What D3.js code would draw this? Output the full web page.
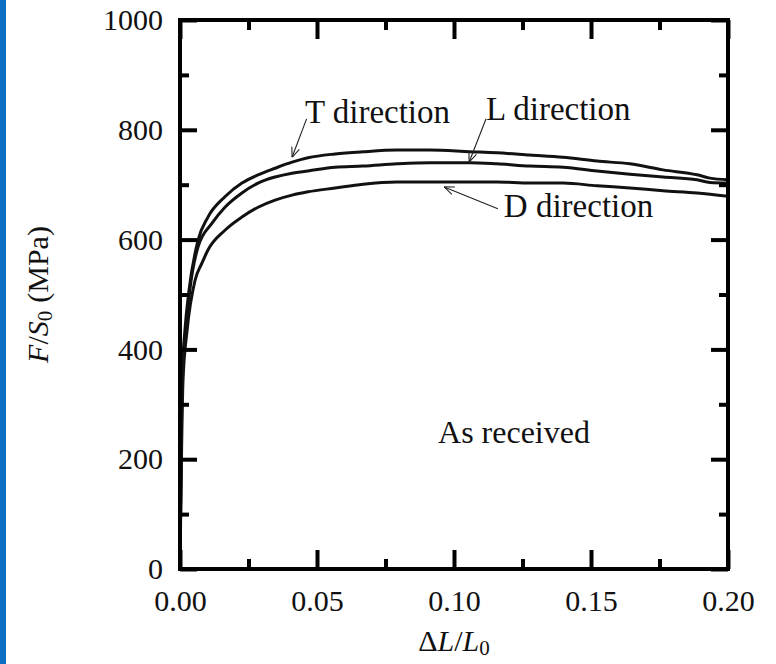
<!DOCTYPE html>
<html>
<head>
<meta charset="utf-8">
<script src="https://cdn.jsdelivr.net/npm/d3@7"></script>
<style>
  body { margin: 0; background: #fff; }
  svg { display: block; }
  text { font-family: "Liberation Serif", "Times New Roman", serif; fill: #111; }
</style>
</head>
<body>
<svg id="chart" width="776" height="664"></svg>
<script>
// strain / stress readings, one pair of arrays per direction
const tStrain = [0, 0.0007, 0.0018, 0.0033, 0.0066, 0.0102, 0.0164, 0.0226, 0.0285, 0.0347, 0.0409, 0.0467, 0.0566, 0.0668, 0.0792, 0.0912, 0.1058, 0.1157, 0.1277, 0.1398, 0.1522, 0.1642, 0.1763, 0.1887, 0.1934, 0.2];
const tStress = [0, 344, 435, 508, 599, 641, 678, 703, 718, 730, 741, 749, 756, 760, 763, 763, 760, 758, 754, 750, 743, 738, 727, 718, 712, 709];

const lStrain = [0, 0.0007, 0.0022, 0.0036, 0.0066, 0.0117, 0.0164, 0.0226, 0.0285, 0.0347, 0.0409, 0.0467, 0.0566, 0.0668, 0.0792, 0.0912, 0.1058, 0.1157, 0.1277, 0.1398, 0.1522, 0.1642, 0.1763, 0.1887, 0.1934, 0.2];
const lStress = [0, 335, 435, 508, 587, 630, 659, 685, 703, 714, 721, 725, 732, 734, 738, 740, 740, 738, 734, 732, 725, 719, 714, 709, 704, 703];

const dStrain = [0, 0.0011, 0.0026, 0.0055, 0.008, 0.0102, 0.0164, 0.0226, 0.0285, 0.0347, 0.0409, 0.0467, 0.0566, 0.0668, 0.0792, 0.0912, 0.1033, 0.1157, 0.1277, 0.1398, 0.1522, 0.1642, 0.1763, 0.1887, 0.2];
const dStress = [0, 344, 435, 526, 557, 581, 617, 641, 659, 672, 681, 687, 694, 701, 705, 705, 705, 705, 703, 703, 698, 694, 689, 685, 679];

const xMajor = [0, 0.05, 0.10, 0.15, 0.20];
const xMinor = [0.025, 0.075, 0.125, 0.175];
const yMajor = [0, 200, 400, 600, 800, 1000];
const yMinor = [100, 300, 500, 700, 900];

// annotations: label, text anchor point, arrow tail, arrow tip (data units)
const labels = ["T direction", "L direction", "D direction"];
const labelPos = [[0.0456, 812], [0.1117, 818], [0.1182, 641]];
const arrowTail = [[0.0462, 820], [0.1117, 820], [0.116, 656]];
const arrowTip = [[0.0409, 750], [0.1055, 741], [0.0964, 696]];

const svg = d3.select("#chart");

// blue strip on the left edge
svg.append("rect").attr("x", 0).attr("y", 0).attr("width", 6).attr("height", 664).attr("fill", "#0a6fc2");

const margin = { top: 20, right: 48, bottom: 95, left: 180 };
const width = 776 - margin.left - margin.right;
const height = 664 - margin.top - margin.bottom;

const g = svg.append("g").attr("transform", `translate(${margin.left},${margin.top})`);

const x = d3.scaleLinear().domain([0, 0.2]).range([0, width]);
const y = d3.scaleLinear().domain([0, 1000]).range([height, 0]);

g.append("clipPath").attr("id", "clip")
  .append("rect").attr("width", width).attr("height", height);

// curves
const line = d3.line()
  .x(d => x(d[0]))
  .y(d => y(d[1]))
  .curve(d3.curveMonotoneX);

[[tStrain, tStress], [lStrain, lStress], [dStrain, dStress]].forEach(([xs, ys]) => {
  g.append("path")
    .datum(xs.map((v, i) => [v, ys[i]]))
    .attr("clip-path", "url(#clip)")
    .attr("fill", "none")
    .attr("stroke", "#111")
    .attr("stroke-width", 3)
    .attr("d", line);
});

// ticks on all four sides, pointing inward
function styleAxis(sel) {
  sel.select(".domain").remove();
  sel.selectAll(".tick line").attr("stroke", "#000").attr("stroke-width", 4);
  sel.selectAll("text").style("font-size", "30px").style("font-family", "Liberation Serif, serif").attr("fill", "#111");
}

g.append("g").attr("transform", `translate(0,${height})`)
  .call(d3.axisBottom(x).tickValues(xMajor).tickSizeInner(-19).tickSizeOuter(0).tickPadding(21).tickFormat(d3.format(".2f")))
  .call(styleAxis);
g.append("g").attr("transform", `translate(0,${height})`)
  .call(d3.axisBottom(x).tickValues(xMinor).tickSizeInner(-10).tickSizeOuter(0).tickFormat(""))
  .call(styleAxis);
g.append("g")
  .call(d3.axisTop(x).tickValues(xMajor).tickSizeInner(-19).tickSizeOuter(0).tickFormat(""))
  .call(styleAxis);
g.append("g")
  .call(d3.axisTop(x).tickValues(xMinor).tickSizeInner(-10).tickSizeOuter(0).tickFormat(""))
  .call(styleAxis);

g.append("g")
  .call(d3.axisLeft(y).tickValues(yMajor).tickSizeInner(-17).tickSizeOuter(0).tickPadding(17).tickFormat(d3.format("d")))
  .call(styleAxis);
g.append("g")
  .call(d3.axisLeft(y).tickValues(yMinor).tickSizeInner(-9).tickSizeOuter(0).tickFormat(""))
  .call(styleAxis);
g.append("g").attr("transform", `translate(${width},0)`)
  .call(d3.axisRight(y).tickValues(yMajor).tickSizeInner(-17).tickSizeOuter(0).tickFormat(""))
  .call(styleAxis);
g.append("g").attr("transform", `translate(${width},0)`)
  .call(d3.axisRight(y).tickValues(yMinor).tickSizeInner(-9).tickSizeOuter(0).tickFormat(""))
  .call(styleAxis);

// frame
g.append("rect")
  .attr("width", width).attr("height", height)
  .attr("fill", "none").attr("stroke", "#000").attr("stroke-width", 4);

// arrow heads
svg.append("defs").append("marker")
  .attr("id", "head")
  .attr("viewBox", "0 -5 10 10")
  .attr("refX", 10).attr("refY", 0)
  .attr("markerWidth", 10).attr("markerHeight", 10)
  .attr("markerUnits", "userSpaceOnUse")
  .attr("orient", "auto")
  .append("path")
  .attr("d", "M0,-4L10,0L0,4")
  .attr("fill", "none").attr("stroke", "#222").attr("stroke-width", 1.1);

labels.forEach((txt, i) => {
  g.append("line")
    .attr("x1", x(arrowTail[i][0])).attr("y1", y(arrowTail[i][1]))
    .attr("x2", x(arrowTip[i][0])).attr("y2", y(arrowTip[i][1]))
    .attr("stroke", "#222").attr("stroke-width", 1.1)
    .attr("marker-end", "url(#head)");
  g.append("text")
    .attr("x", x(labelPos[i][0])).attr("y", y(labelPos[i][1]))
    .style("font-size", "33px")
    .text(txt);
});

g.append("text")
  .attr("x", x(0.1219)).attr("y", y(230))
  .attr("text-anchor", "middle")
  .style("font-size", "32px")
  .text("As received");

// axis titles
const xt = svg.append("text")
  .attr("x", margin.left + width / 2).attr("y", 651)
  .attr("text-anchor", "middle")
  .style("font-size", "30px");
xt.append("tspan").text("Δ");
xt.append("tspan").style("font-style", "italic").text("L");
xt.append("tspan").text("/");
xt.append("tspan").style("font-style", "italic").text("L");
xt.append("tspan").attr("dy", 4).style("font-size", "21px").text("0");

const yt = svg.append("text")
  .attr("transform", `translate(48,${margin.top + height / 2}) rotate(-90)`)
  .attr("text-anchor", "middle")
  .style("font-size", "30px");
yt.append("tspan").style("font-style", "italic").text("F");
yt.append("tspan").text("/");
yt.append("tspan").style("font-style", "italic").text("S");
yt.append("tspan").attr("dy", 4).style("font-size", "21px").text("0");
yt.append("tspan").attr("dy", -4).attr("dx", 8).text("(MPa)");
</script>
</body>
</html>
